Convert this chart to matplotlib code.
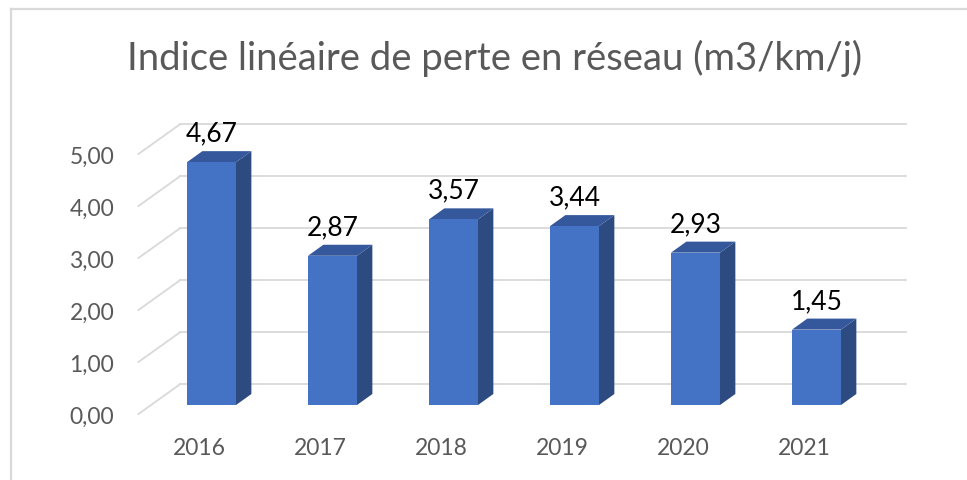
import numpy as np
import matplotlib
matplotlib.use("Agg")
import matplotlib.pyplot as plt
from matplotlib.patches import Polygon

# data
years = ["2016", "2017", "2018", "2019", "2020", "2021"]
values = [4.67, 2.87, 3.57, 3.44, 2.93, 1.45]
labels = ["4,67", "2,87", "3,57", "3,44", "2,93", "1,45"]
ticks = [0, 1, 2, 3, 4, 5]
tick_labels = ["0,00", "1,00", "2,00", "3,00", "4,00", "5,00"]
title = "Indice linéaire de perte en réseau (m3/km/j)"

plt.rcParams['font.family'] = ['Lato', 'DejaVu Sans']

# 3d look: offsets in data units
bar_w = 0.405
bar_dx, bar_dy = 0.127, 0.212      # depth of a bar
back_dx, back_dy = 0.243, 0.404    # back wall
front_dx, front_dy = -0.104, -0.173  # front edge of the floor

c_front = "#4472C4"
c_side = "#2D4B80"
c_top = "#34589B"
grid_c = "#D9D9D9"
text_c = "#595959"

fig = plt.figure(figsize=(9.67, 4.81), dpi=100)
ax = fig.add_axes([0, 0, 1, 1])
ax.set_xlim(-1.748, 6.244)
ax.set_ylim(-1.442, 7.808)
ax.axis("off")

# chart frame (left and top)
fig.add_artist(plt.Line2D([0.011, 0.011], [0, 0.979], color=grid_c, lw=1.6))
fig.add_artist(plt.Line2D([0.011, 1.0], [0.979, 0.979], color=grid_c, lw=1.6))

# gridlines: back wall + left diagonal
x0, x1 = -0.5, 5.5
for t in ticks:
    ax.plot([x0 + front_dx, x0 + back_dx], [t + front_dy, t + back_dy],
            color=grid_c, lw=1.3, zorder=1)
    ax.plot([x0 + back_dx, x1 + back_dx], [t + back_dy, t + back_dy],
            color=grid_c, lw=1.3, zorder=1)
    ax.text(x0 + front_dx - 0.2, t + front_dy - 0.05, tick_labels[t],
            ha="right", va="center", fontsize=16.5, color=text_c)

for i, v in enumerate(values):
    l, r = i - bar_w / 2, i + bar_w / 2
    front = Polygon([(l, 0), (r, 0), (r, v), (l, v)], closed=True,
                    facecolor=c_front, edgecolor="none", zorder=3)
    side = Polygon([(r, 0), (r + bar_dx, bar_dy), (r + bar_dx, v + bar_dy), (r, v)],
                   closed=True, facecolor=c_side, edgecolor="none", zorder=3)
    top = Polygon([(l, v), (r, v), (r + bar_dx, v + bar_dy), (l + bar_dx, v + bar_dy)],
                  closed=True, facecolor=c_top, edgecolor="none", zorder=3)
    for p in (side, top, front):
        ax.add_patch(p)
    ax.text(i, v + 0.56, labels[i], ha="center", va="center",
            fontsize=19, color="black", zorder=4)
    ax.text(i + front_dx, -0.82, years[i], ha="center", va="center",
            fontsize=16.5, color=text_c)

fig.text(495 / 967, 1 - 58 / 481, title, ha="center", va="center",
         fontsize=27.5, color=text_c)

fig.savefig("out.png", dpi=100)
